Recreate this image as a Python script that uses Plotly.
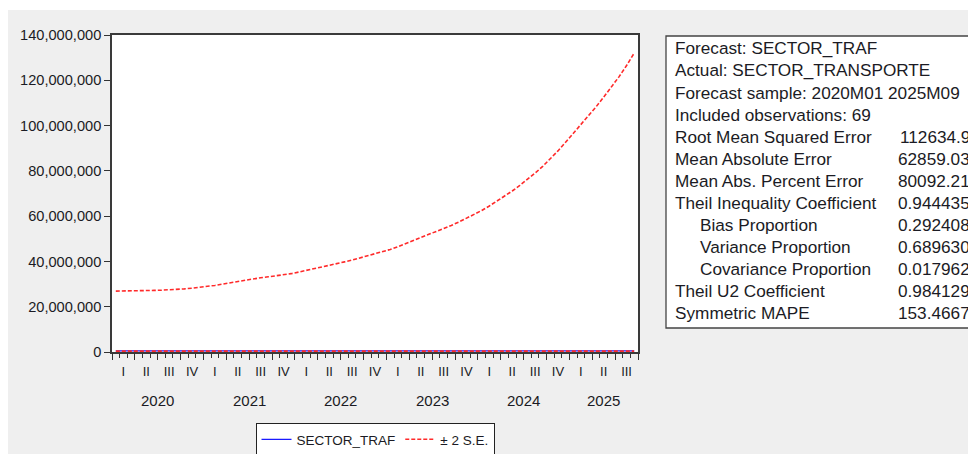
import plotly.graph_objects as go

# ---------------- data ----------------
n_obs = 69  # 2020M01 .. 2025M09
upper_band_m = [26.9, 26.9, 27.0, 27.0, 27.1, 27.2, 27.3, 27.4, 27.7, 27.9, 28.2, 28.5,
                28.8, 29.4, 30.0, 30.6, 31.2, 31.8, 32.3, 32.8, 33.2, 33.6, 34.0, 34.6,
                35.3, 36.0, 36.7, 37.5, 38.2, 39.0, 39.8, 40.6, 41.5, 42.3, 43.2, 44.2,
                45.3, 46.5, 47.8, 49.2, 50.6, 51.9, 53.2, 54.5, 55.9, 57.4, 59.0, 60.7,
                62.5, 64.5, 66.6, 68.8, 71.1, 73.6, 76.2, 79.0, 82.0, 85.2, 88.8, 92.6,
                96.5, 100.3, 104.2, 108.3, 112.6, 117.0, 121.5, 126.5, 132.0]
forecast_m = [0.50, 0.50, 0.50, 0.50, 0.50, 0.50, 0.50, 0.50, 0.50, 0.50, 0.50, 0.50,
              0.50, 0.50, 0.50, 0.50, 0.50, 0.50, 0.50, 0.50, 0.50, 0.50, 0.50, 0.50,
              0.50, 0.50, 0.50, 0.50, 0.50, 0.50, 0.50, 0.50, 0.50, 0.50, 0.50, 0.50,
              0.50, 0.50, 0.50, 0.50, 0.50, 0.50, 0.50, 0.50, 0.50, 0.50, 0.50, 0.50,
              0.50, 0.50, 0.50, 0.50, 0.50, 0.50, 0.50, 0.50, 0.50, 0.50, 0.50, 0.50,
              0.50, 0.50, 0.50, 0.50, 0.50, 0.50, 0.50, 0.50, 0.50]
lower_band_m = [0.40, 0.40, 0.40, 0.40, 0.40, 0.40, 0.40, 0.40, 0.40, 0.40, 0.40, 0.40,
                0.40, 0.40, 0.40, 0.40, 0.40, 0.40, 0.40, 0.40, 0.40, 0.40, 0.40, 0.40,
                0.40, 0.40, 0.40, 0.40, 0.40, 0.40, 0.40, 0.40, 0.40, 0.40, 0.40, 0.40,
                0.40, 0.40, 0.40, 0.40, 0.40, 0.40, 0.40, 0.40, 0.40, 0.40, 0.40, 0.40,
                0.40, 0.40, 0.40, 0.40, 0.40, 0.40, 0.40, 0.40, 0.40, 0.40, 0.40, 0.40,
                0.40, 0.40, 0.40, 0.40, 0.40, 0.40, 0.40, 0.40, 0.40]
quarter_labels = ["I", "II", "III", "IV"]
year_labels = ["2020", "2021", "2022", "2023", "2024", "2025"]
y_ticks = [0, 20_000_000, 40_000_000, 60_000_000, 80_000_000, 100_000_000,
           120_000_000, 140_000_000]
stat_labels = ["Forecast: SECTOR_TRAF", "Actual: SECTOR_TRANSPORTE",
               "Forecast sample: 2020M01 2025M09", "Included observations: 69",
               "Root Mean Squared Error", "Mean Absolute Error",
               "Mean Abs. Percent Error", "Theil Inequality Coefficient",
               "Bias Proportion", "Variance Proportion", "Covariance Proportion",
               "Theil U2 Coefficient", "Symmetric MAPE"]
stat_values = ["", "", "", "", "112634.9", "62859.03", "80092.21", "0.944435",
               "0.292408", "0.689630", "0.017962", "0.984129", "153.4667"]
stat_indent = [0, 0, 0, 0, 0, 0, 0, 0, 1, 1, 1, 0, 0]

# ---------------- layout geometry ----------------
# the page adds an 8px body margin, so figure pixel = screenshot pixel - 8
OFF = 8
W, H = 976 - OFF, 454 - OFF
PL, PR, PT, PB = 112 - OFF, 638 - OFF, 35 - OFF, 352 - OFF
pw, ph = PR - PL, PB - PT


def px_x(x):
    """screenshot x pixel -> paper x"""
    return (x - OFF - PL) / pw


def px_y(y):
    """screenshot y pixel -> paper y"""
    return (PB - (y - OFF)) / ph


FONT = "Liberation Sans, Arial, sans-serif"
TXT = "#1b1b24"
DASH = "4px,2px"

xs = [i + 0.5 for i in range(n_obs)]
upper = [v * 1e6 for v in upper_band_m]
fc = [v * 1e6 for v in forecast_m]
lower = [v * 1e6 for v in lower_band_m]

fig = go.Figure()
fig.add_trace(go.Scatter(x=xs, y=fc, mode="lines", name="SECTOR_TRAF",
                         line=dict(color="#1a1aff", width=1.3)))
fig.add_trace(go.Scatter(x=xs, y=upper, mode="lines", name="± 2 S.E.",
                         line=dict(color="#ff2a2a", width=1.6, dash=DASH)))
fig.add_trace(go.Scatter(x=xs, y=lower, mode="lines", name="± 2 S.E.", showlegend=False,
                         line=dict(color="#ff2a2a", width=1.6, dash=DASH)))

# quarter tick labels (centre of middle month of each quarter)
q_vals, q_text = [], []
for q in range((n_obs + 2) // 3):
    q_vals.append(q * 3 + 1.5)
    q_text.append(quarter_labels[q % 4])

fig.update_layout(
    width=W, height=H,
    margin=dict(l=PL, r=W - PR, t=PT, b=H - PB, autoexpand=False),
    paper_bgcolor="#efefef",
    plot_bgcolor="white",
    font=dict(family=FONT, color=TXT),
    showlegend=True,
    legend=dict(orientation="h", xref="container", yref="container",
                x=(375 - OFF) / W, xanchor="center",
                y=1 - (423 - OFF) / H, yanchor="top",
                bgcolor="white", bordercolor="#222", borderwidth=1,
                font=dict(size=13.5, family=FONT, color=TXT)),
    xaxis=dict(range=[0, n_obs], tickmode="array", tickvals=q_vals, ticktext=q_text,
               ticks="outside", ticklen=7, tickcolor="rgba(0,0,0,0)",
               showgrid=False, zeroline=False,
               showline=True, linecolor="#3a3a3a", linewidth=1.6, mirror=True,
               tickfont=dict(size=13, family=FONT, color=TXT),
               minor=dict(ticks="outside", dtick=1, tick0=0, ticklen=4,
                          tickcolor="#333", tickwidth=1, showgrid=False)),
    xaxis2=dict(range=[0, n_obs], overlaying="x", side="bottom", tickmode="linear",
                tick0=0, dtick=3, ticks="outside", ticklen=7, tickcolor="#333",
                tickwidth=1, showticklabels=False, showgrid=False, zeroline=False,
                showline=False),
    yaxis=dict(range=[0, 140_000_000], tickmode="array", tickvals=y_ticks,
               tickformat=",d", ticks="outside", ticklen=6, tickcolor="#333",
               showgrid=False, zeroline=False,
               showline=True, linecolor="#3a3a3a", linewidth=1.6, mirror=True,
               tickfont=dict(size=14.6, family=FONT, color=TXT)),
)
# invisible trace to activate xaxis2 ticks
fig.add_trace(go.Scatter(x=[0, n_obs], y=[None, None], xaxis="x2", showlegend=False,
                         hoverinfo="skip", mode="lines"))

# thin white strip on top (reference panel starts slightly lower)
fig.add_shape(type="rect", xref="paper", yref="paper", layer="below",
              x0=px_x(0), x1=px_x(980), y0=px_y(10), y1=px_y(0),
              fillcolor="white", line=dict(width=0))

# year labels
for k, yr in enumerate(year_labels):
    start = k * 12
    end = min(start + 12, n_obs)
    fig.add_annotation(x=(start + end) / 2, y=0, xref="x", yref="paper",
                       yanchor="middle", yshift=-48, text=yr, showarrow=False,
                       font=dict(size=15, family=FONT, color=TXT))

# statistics box
fig.add_shape(type="rect", xref="paper", yref="paper",
              x0=px_x(666), x1=px_x(990), y0=px_y(328), y1=px_y(36),
              fillcolor="white", line=dict(color="#444", width=1.3))
for i, (lab, val, ind) in enumerate(zip(stat_labels, stat_values, stat_indent)):
    py = 48.5 + i * 22.0
    fig.add_annotation(x=px_x(673 + ind * 25), y=px_y(py), xref="paper", yref="paper",
                       xanchor="left", yanchor="middle", text=lab, showarrow=False,
                       font=dict(size=17.2, family=FONT, color=TXT))
    if val:
        fig.add_annotation(x=px_x(972), y=px_y(py), xref="paper", yref="paper",
                           xanchor="right", yanchor="middle", text=val, showarrow=False,
                           font=dict(size=17.2, family=FONT, color=TXT))

fig.write_html("out.html")
